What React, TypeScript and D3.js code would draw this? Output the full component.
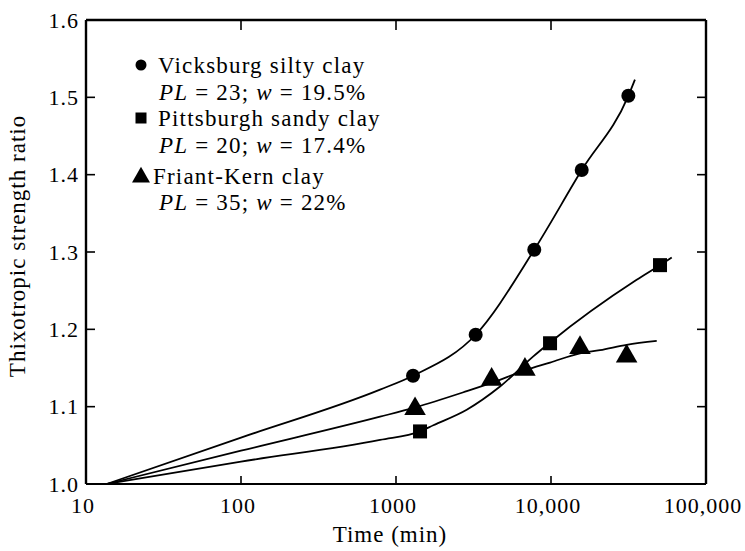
import React, { useEffect } from 'react';
import * as d3 from 'd3';

// ---- axis ticks ----
const xTickValues = [10, 100, 1000, 10000, 100000];
const xTickLabels = ['10', '100', '1000', '10,000', '100,000'];
const yTickValues = [1.0, 1.1, 1.2, 1.3, 1.4, 1.5, 1.6];
const yTickLabels = ['1.0', '1.1', '1.2', '1.3', '1.4', '1.5', '1.6'];

// ---- measured points (time in min, thixotropic strength ratio) ----
const vicksburgTime = [1288, 3266, 7800, 15780, 31550];
const vicksburgRatio = [1.14, 1.193, 1.303, 1.406, 1.502];
const pittsburghTime = [1429, 9860, 50500];
const pittsburghRatio = [1.068, 1.182, 1.283];
const friantTime = [1327, 4140, 6790, 15380, 30760];
const friantRatio = [1.099, 1.137, 1.15, 1.178, 1.167];

// ---- hand-fitted curves ----
const vicksburgCurveTime = [13.6, 100, 789, 1288, 3266, 7800, 15780, 31550, 34800];
const vicksburgCurveRatio = [1.0, 1.06, 1.122, 1.14, 1.193, 1.303, 1.406, 1.502, 1.523];
const pittsburghCurveTime = [13.6, 100, 789, 1429, 1742, 2860, 4690, 7690, 9860, 35700, 50500, 60100];
const pittsburghCurveRatio = [1.0, 1.029, 1.057, 1.068, 1.076, 1.096, 1.126, 1.165, 1.183, 1.264, 1.283, 1.293];
const friantCurveTime = [13.6, 100, 789, 1327, 2860, 4040, 6790, 9860, 15380, 20700, 30760, 48100];
const friantCurveRatio = [1.0, 1.043, 1.087, 1.099, 1.12, 1.13, 1.147, 1.157, 1.169, 1.173, 1.18, 1.185];

// ---- legend ----
const legendNames = ['Vicksburg silty clay', 'Pittsburgh sandy clay', 'Friant-Kern clay'];
const legendPL = ['23', '20', '35'];
const legendW = ['19.5%', '17.4%', '22%'];
const legendMarkers = ['circle', 'square', 'triangle'];

const W = 745;
const H = 551;
const FONT = '"Liberation Serif", "Times New Roman", serif';

const x = d3.scaleLog().domain([10, 100000]).range([86, 706]);
const y = d3.scaleLinear().domain([1.0, 1.6]).range([484, 20]);

const line = d3
  .line<[number, number]>()
  .x((d) => x(d[0]))
  .y((d) => y(d[1]))
  .curve(d3.curveMonotoneX);

function zip(a: number[], b: number[]): [number, number][] {
  return a.map((v, i) => [v, b[i]] as [number, number]);
}

function Marker({ kind, cx, cy, s }: { kind: string; cx: number; cy: number; s: number }) {
  if (kind === 'circle') return <circle cx={cx} cy={cy} r={s * 0.5} fill="#000" />;
  if (kind === 'square')
    return <rect x={cx - s * 0.5} y={cy - s * 0.5} width={s} height={s} fill="#000" />;
  const sym = d3.symbol(d3.symbolTriangle, s * s * 0.62)();
  return <path d={sym || ''} transform={`translate(${cx},${cy + s * 0.08})`} fill="#000" />;
}

export default function App() {
  useEffect(() => {
    document.body.style.margin = '0';
  }, []);

  const legendRows = [
    [66, 93],
    [119, 146],
    [177, 203],
  ];

  return (
    <svg
      width={W}
      height={H}
      viewBox={`0 0 ${W} ${H}`}
      style={{ position: 'absolute', left: 0, top: 0, background: '#fff' }}
      fontFamily={FONT}
    >
      <rect x={0} y={0} width={W} height={H} fill="#fff" />

      {/* frame */}
      <g stroke="#000" fill="none">
        <line x1={x(10)} x2={x(100000)} y1={y(1.6)} y2={y(1.6)} strokeWidth={2.4} />
        <line x1={x(10)} x2={x(100000)} y1={y(1.0)} y2={y(1.0)} strokeWidth={1.8} />
        <line x1={x(10)} x2={x(10)} y1={y(1.6)} y2={y(1.0)} strokeWidth={2.4} />
        <line x1={x(100000)} x2={x(100000)} y1={y(1.6)} y2={y(1.0)} strokeWidth={2.4} />
      </g>

      {/* ticks */}
      <g stroke="#000" strokeWidth={1.6}>
        {yTickValues.slice(1, -1).map((v) => (
          <g key={`yt${v}`}>
            <line x1={x(10)} x2={x(10) + 9} y1={y(v)} y2={y(v)} />
            <line x1={x(100000)} x2={x(100000) - 9} y1={y(v)} y2={y(v)} />
          </g>
        ))}
        {xTickValues.slice(1, -1).map((v) => (
          <g key={`xt${v}`}>
            <line x1={x(v)} x2={x(v)} y1={y(1.0)} y2={y(1.0) - 8} />
            <line x1={x(v)} x2={x(v)} y1={y(1.6)} y2={y(1.6) + 10} />
          </g>
        ))}
      </g>

      {/* tick labels */}
      <g fontSize={22} fill="#000" letterSpacing={1}>
        {yTickValues.map((v, i) => (
          <text key={`yl${v}`} x={x(10) - 7} y={y(v) + 7.5} textAnchor="end">
            {yTickLabels[i]}
          </text>
        ))}
        {xTickValues.map((v, i) => (
          <text key={`xl${v}`} x={x(v) - 3} y={513} textAnchor="middle">
            {xTickLabels[i]}
          </text>
        ))}
      </g>

      {/* axis titles */}
      <text x={390} y={542} textAnchor="middle" fontSize={23} letterSpacing={1}>
        Time (min)
      </text>
      <text
        transform={`translate(25,${246}) rotate(-90)`}
        textAnchor="middle"
        fontSize={23}
        letterSpacing={1}
      >
        Thixotropic strength ratio
      </text>

      {/* fitted curves */}
      <g fill="none" stroke="#000" strokeWidth={1.8}>
        <path d={line(zip(vicksburgCurveTime, vicksburgCurveRatio)) || ''} />
        <path d={line(zip(pittsburghCurveTime, pittsburghCurveRatio)) || ''} />
        <path d={line(zip(friantCurveTime, friantCurveRatio)) || ''} />
      </g>

      {/* markers */}
      {vicksburgTime.map((t, i) => (
        <Marker key={`v${i}`} kind="circle" cx={x(t)} cy={y(vicksburgRatio[i])} s={14} />
      ))}
      {pittsburghTime.map((t, i) => (
        <Marker key={`p${i}`} kind="square" cx={x(t)} cy={y(pittsburghRatio[i])} s={14} />
      ))}
      {friantTime.map((t, i) => (
        <Marker key={`f${i}`} kind="triangle" cx={x(t)} cy={y(friantRatio[i])} s={18} />
      ))}

      {/* legend */}
      <g fontSize={23} letterSpacing={1.2} fill="#000">
        {legendNames.map((name, i) => {
          const [r1, r2] = legendRows[i];
          return (
            <g key={`lg${i}`}>
              <Marker
                kind={legendMarkers[i]}
                cx={141}
                cy={r1 - 1}
                s={legendMarkers[i] === 'triangle' ? 15 : 11}
              />
              <text x={legendMarkers[i] === 'triangle' ? 153 : 158} y={r1 + 7}>
                {name}
              </text>
              <text x={159} y={r2 + 7}>
                <tspan fontStyle="italic">PL</tspan>
                {` = ${legendPL[i]}; `}
                <tspan fontStyle="italic">w</tspan>
                {` = ${legendW[i]}`}
              </text>
            </g>
          );
        })}
      </g>
    </svg>
  );
}
